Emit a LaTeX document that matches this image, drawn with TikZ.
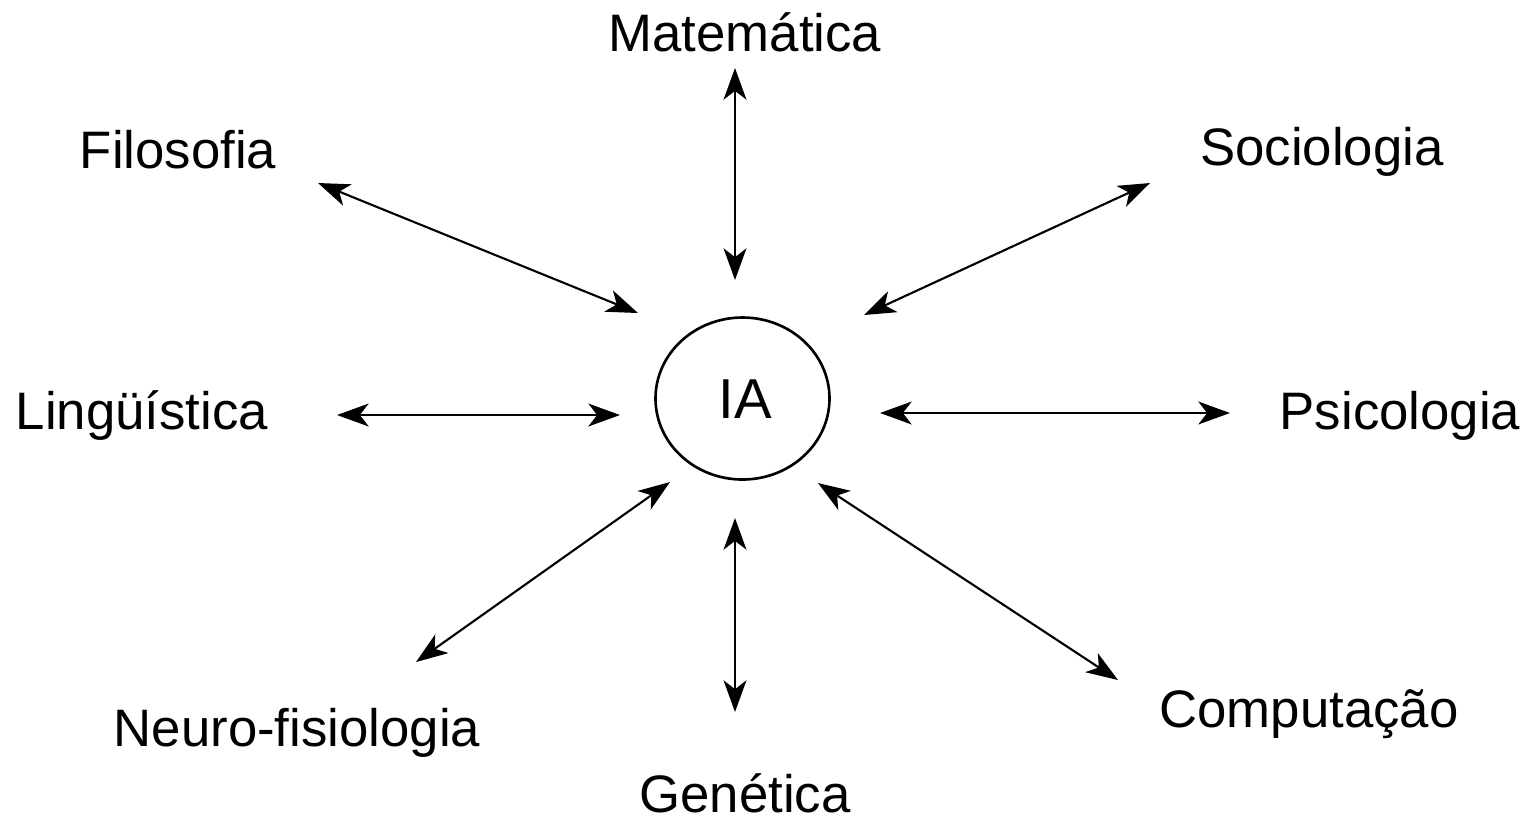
\documentclass[tikz,border=0pt]{standalone}
\usepackage{fontspec}
\setmainfont{Liberation Sans}
\usetikzlibrary{arrows.meta}
\begin{document}
\begin{tikzpicture}[x=0.01cm,y=-0.01cm,
  lbl/.style={font=\fontsize{15pt}{18pt}\selectfont, inner sep=0pt},
  link/.style={line width=0.6pt, {Stealth[length=9pt,width=6.5pt,inset=2.5pt]}-{Stealth[length=9pt,width=6.5pt,inset=2.5pt]}}]
\useasboundingbox (0,0) rectangle (1536,820);
\draw[line width=0.75pt] (742.5,398.5) ellipse [x radius=87, y radius=81];
\node[lbl, font=\fontsize{16pt}{19pt}\selectfont] (ia) at (745,399) {IA};
\node[lbl] (mat) at (745,32) {Matemática};
\node[lbl] (fil) at (178,150) {Filosofia};
\node[lbl] (soc) at (1322,152) {Sociologia};
\node[lbl] (lin) at (142,416) {Lingüística};
\node[lbl] (psi) at (1400,416) {Psicologia};
\node[lbl] (neu) at (297,733) {Neuro-fisiologia};
\node[lbl] (gen) at (745,793) {Genética};
\node[lbl] (com) at (1309,714) {Computação};
\coordinate (mat1) at (735,68);   \coordinate (mat2) at (735,280);
\coordinate (fil1) at (318,183);  \coordinate (fil2) at (638,313);
\coordinate (soc1) at (1150,183); \coordinate (soc2) at (864,315);
\coordinate (lin1) at (337,415);  \coordinate (lin2) at (620,415);
\coordinate (psi1) at (1230,413); \coordinate (psi2) at (880,413);
\coordinate (neu1) at (416,662);  \coordinate (neu2) at (670,482);
\coordinate (gen1) at (735,712);  \coordinate (gen2) at (735,518);
\coordinate (com1) at (1118,680); \coordinate (com2) at (818,483);
\foreach \n in {mat,fil,soc,lin,psi,neu,gen,com}
  \draw[link] (\n1) -- (\n2);
\end{tikzpicture}
\end{document}
